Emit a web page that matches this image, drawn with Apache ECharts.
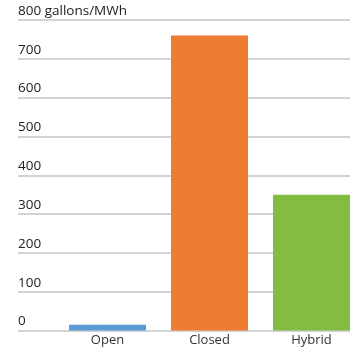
<!DOCTYPE html>
<html>
<head>
<meta charset="utf-8">
<script src="https://cdn.jsdelivr.net/npm/echarts@6/dist/echarts.min.js"></script>
<style>
  html, body { margin: 0; padding: 0; background: #fff; }
  #chart { width: 355px; height: 348px; }
</style>
</head>
<body>
<div id="chart"></div>
<script>
// Water consumption by cooling system type
const categories = ['Open', 'Closed', 'Hybrid'];
const values = [15, 760, 350];
const barColors = ['#5b9bd5', '#ed7d31', '#82bd41'];
const yTicks = [0, 100, 200, 300, 400, 500, 600, 700, 800];
const unitLabel = 'gallons/MWh';

const yMin = yTicks[0];
const yMax = yTicks[yTicks.length - 1];
const yStep = yTicks[1] - yTicks[0];

const chart = echarts.init(document.getElementById('chart'), null, { renderer: 'canvas' });
const font = '"Open Sans", "Noto Sans", sans-serif';

chart.setOption({
  animation: false,
  backgroundColor: '#ffffff',
  grid: [
    // gridlines and value labels
    { left: 18, right: 5, top: 20, bottom: 17.5, containLabel: false },
    // bars and category labels: category ticks sit at the grid edges
    { left: 107.5, width: 204, top: 20, bottom: 17.5, containLabel: false }
  ],
  xAxis: [
    { type: 'category', gridIndex: 0, data: categories, show: false },
    {
      type: 'category', gridIndex: 1, data: categories, boundaryGap: false,
      axisLine: { show: false }, axisTick: { show: false },
      axisLabel: { color: '#333', fontFamily: font, fontSize: 13, margin: 3 }
    }
  ],
  yAxis: [
    {
      type: 'value', gridIndex: 0, min: yMin, max: yMax, interval: yStep,
      axisLine: { show: false }, axisTick: { show: false },
      splitLine: { show: true, lineStyle: { color: '#c4c4c4', width: 1.5 } },
      axisLabel: {
        inside: true, align: 'left', verticalAlign: 'bottom', margin: 0,
        padding: [0, 0, 2, 0],
        color: '#222', fontFamily: font, fontSize: 13.5,
        formatter: v => v === yMax ? v + ' ' + unitLabel : String(v)
      }
    },
    {
      type: 'value', gridIndex: 1, min: yMin, max: yMax, interval: yStep,
      show: false, splitLine: { show: false }
    }
  ],
  series: [{
    type: 'bar',
    xAxisIndex: 1, yAxisIndex: 1,
    barWidth: 77,
    clip: false,
    data: values.map((v, i) => ({ value: v, itemStyle: { color: barColors[i] } }))
  }]
});
</script>
</body>
</html>
